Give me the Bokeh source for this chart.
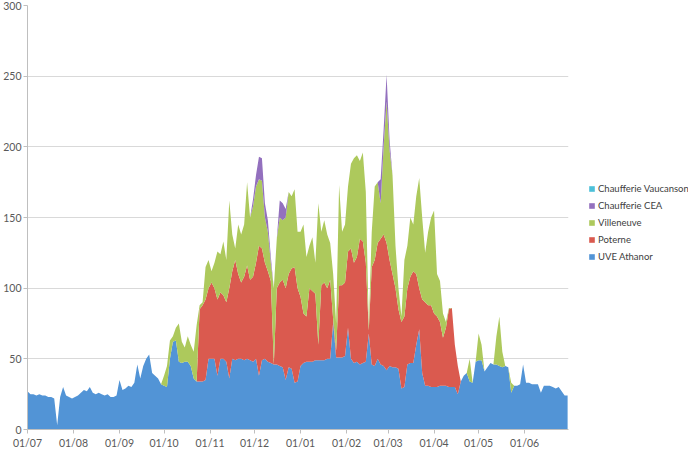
import datetime as dt
from bokeh.plotting import figure
from bokeh.layouts import row
from bokeh.models import (ColumnDataSource, Legend, LegendItem, DatetimeTickFormatter,
                          MonthsTicker, Range1d, FixedTicker)
from bokeh.embed import file_html
from bokeh.resources import INLINE

# values every 2 days starting 01/07
athanor = (
    [27, 25, 25, 24, 25, 24, 24, 23, 23, 22, 3, 23, 30, 24, 23, 22]
    + [23, 24, 26, 28, 27, 30, 26, 25, 26, 25, 24, 25, 23, 23, 24]
    + [35, 28, 29, 31, 30, 33, 46, 36, 45, 50, 53, 40, 38, 36, 32]
    + [31, 30, 50, 62, 63, 48, 47, 48, 48, 45, 36, 34, 34, 34, 35, 50]
    + [50, 50, 38, 50, 50, 48, 36, 50, 49, 50, 50, 49, 50, 49, 48]
    + [50, 38, 49, 50, 48, 47, 46, 46, 45, 44, 35, 44, 43, 33, 34, 45]
    + [47, 48, 48, 48, 49, 49, 49, 49, 50, 50, 76, 51, 51, 51, 52]
    + [72, 50, 47, 48, 46, 47, 48, 68, 46, 45, 50, 46, 45, 42]
    + [45, 44, 44, 43, 29, 30, 46, 47, 47, 60, 71, 40, 31, 31, 30]
    + [30, 30, 31, 31, 31, 30, 30, 30, 25, 34, 38, 40, 34, 33, 48]
    + [49, 49, 41, 44, 47, 46, 46, 45, 44, 45, 44, 26, 31, 31, 32, 46]
    + [33, 33, 32, 32, 32, 26, 31, 31, 31, 30, 29, 30, 27, 24, 24]
)
poterne = (
    [0] * 58
    + [51, 54, 57, 50]
    + [54, 50, 54, 47, 45, 42, 64, 62, 71, 60, 54, 59, 66, 57, 60]
    + [68, 92, 79, 68, 64, 58, 0, 54, 59, 62, 65, 66, 71, 82, 66, 49]
    + [35, 32, 52, 50, 47, 11, 53, 55, 50, 56, 2, 5, 51, 51, 52]
    + [54, 78, 71, 74, 89, 86, 70, 2, 69, 75, 82, 89, 93, 90]
    + [75, 66, 56, 42, 47, 50, 54, 61, 65, 50, 29, 52, 59, 57, 58]
    + [52, 50, 45, 34, 41, 55, 56, 30, 20]
    + [0] * 37
)
villeneuve = (
    [0] * 46
    + [7, 15, 13, 4, 9, 27, 15, 10, 18, 15, 19, 40, 3, 2, 23, 20]
    + [8, 18, 34, 27, 38, 30, 62, 26, 8, 35, 34, 37, 59, 44, 50]
    + [54, 47, 48, 32, 28, 13, 54, 35, 46, 42, 50, 58, 51, 55, 40, 46]
    + [63, 42, 30, 38, 22, 100, 38, 44, 38, 26, 32, 19, 71, 38, 41]
    + [46, 60, 74, 72, 55, 63, 50, 4, 25, 52, 43, 25, 62, 100]
    + [78, 70, 30, 15, 4, 40, 30, 42, 33, 55, 78, 58, 35, 52, 62]
    + [73, 30, 29, 17, 4, 1, 0, 0, 0, 0, 0, 0, 16, 0, 0]
    + [19, 11, 0, 0, 0, 0, 20, 35, 11, 0, 0, 7, 0, 0, 0, 0]
    + [0] * 15
)
cea = (
    [0] * 76
    + [5, 8, 16, 16, 10, 8, 4, 0, 0, 12, 12, 6]
    + [0] * 31
    + [17, 12, 19, 7]
    + [0] * 60
)
vaucanson = [0] * 183

labels = ["UVE Athanor", "Poterne", "Villeneuve", "Chaufferie CEA", "Chaufferie Vaucanson"]
colors = ["#5294d6", "#da5a4f", "#adc95c", "#9370be", "#4cc0d9"]
y_ticks = [0, 50, 100, 150, 200, 250, 300]

start = dt.datetime(2013, 7, 1)
n = len(athanor)
dates = [start + dt.timedelta(days=2 * i) for i in range(n)]
src = ColumnDataSource(dict(date=dates, athanor=athanor, poterne=poterne,
                            villeneuve=villeneuve, cea=cea, vaucanson=vaucanson))

FONT = "Lato"
p = figure(frame_width=541, frame_height=424, x_axis_type="datetime",
           output_backend="svg", toolbar_location=None,
           x_range=Range1d(start, start + dt.timedelta(days=364.6)),
           y_range=Range1d(0, 300),
           min_border_left=18, min_border_right=2, min_border_top=5,
           min_border_bottom=2)
p.outline_line_color = None
p.background_fill_color = "white"
p.border_fill_color = "white"

keys = ["athanor", "poterne", "villeneuve", "cea", "vaucanson"]
rs = p.varea_stack(keys, x="date", fill_color=colors, source=src)

p.xgrid.visible = False
p.ygrid.grid_line_color = "#d9d9d9"
p.ygrid.grid_line_width = 1

p.yaxis.ticker = FixedTicker(ticks=y_ticks)
p.xaxis.ticker = MonthsTicker(months=list(range(1, 13)))
fmt = "%d/%m"
p.xaxis.formatter = DatetimeTickFormatter(days=fmt, months=fmt, years=fmt, hours=fmt)
for ax in (p.xaxis, p.yaxis):
    ax.axis_line_color = "#bfbfbf"
    ax.major_tick_line_color = "#bfbfbf"
    ax.major_tick_out = 4
    ax.major_tick_in = 0
    ax.minor_tick_line_color = None
    ax.major_label_text_font = FONT
    ax.major_label_text_font_size = "10.5px"
    ax.major_label_text_color = "#595959"
p.yaxis.major_label_standoff = 2
p.xaxis.major_label_standoff = 3

# legend panel on the right
H = 449
lp = figure(width=118, height=H, output_backend="svg", toolbar_location=None,
            x_range=Range1d(0, 1), y_range=Range1d(0, 1),
            min_border_left=0, min_border_right=0, min_border_top=0, min_border_bottom=0)
lp.axis.visible = False
lp.grid.visible = False
lp.outline_line_color = None
lp.border_fill_color = "white"
dummies = [lp.quad(left=[2], right=[3], bottom=[2], top=[3], fill_color=c, line_color=None)
           for c in colors]
items = [LegendItem(label=labels[i], renderers=[dummies[i]]) for i in range(4, -1, -1)]
legend = Legend(items=items, location=(18, H - 284), orientation="vertical",
                border_line_color=None, background_fill_alpha=0,
                glyph_width=7, glyph_height=7, label_standoff=3,
                label_text_font=FONT, label_text_font_size="9.5px",
                label_text_color="#404040", label_height=12, spacing=5,
                padding=0, margin=0)
lp.add_layout(legend, "center")

layout = row(p, lp)
open("out.html", "w").write(file_html(layout, INLINE))
